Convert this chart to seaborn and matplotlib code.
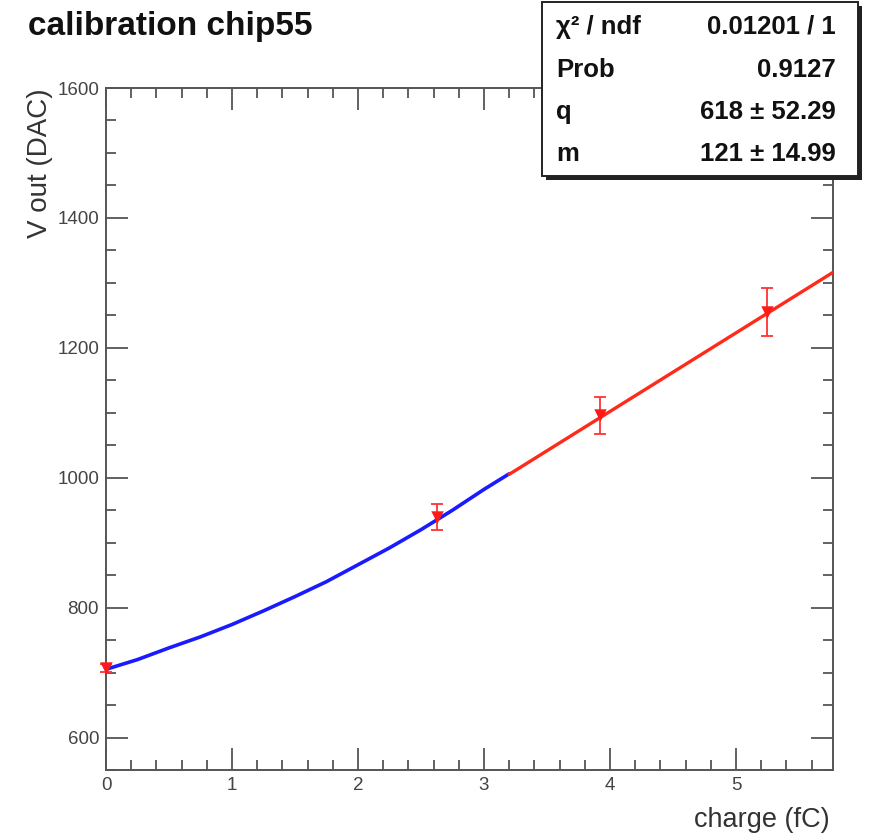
import numpy as np
import pandas as pd
import matplotlib
matplotlib.use("Agg")
import matplotlib.pyplot as plt
from matplotlib.patches import Rectangle
import seaborn as sns

# measured calibration points
charge_fc = [0.0, 2.63, 3.92, 5.25]
vout_dac = [707, 940, 1096, 1255]
vout_err = [6, 20, 28, 37]

# low-charge fit curve (sampled)
curve_x = [0.0, 0.25, 0.5, 0.75, 1.0, 1.25, 1.5, 1.75, 2.0, 2.25, 2.5, 2.75, 3.0, 3.2]
curve_y = [705, 720, 738, 755, 774, 795, 817, 840, 866, 892, 920, 950, 982, 1006]

# linear fit parameters
fit_q = 618
fit_m = 121
fit_range = [3.2, 5.77]

stats_labels = ["χ² / ndf", "Prob", "q", "m"]
stats_values = ["0.01201 / 1", "0.9127", "618 ± 52.29", "121 ± 14.99"]

sns.set_style("ticks")
plt.rcParams["font.family"] = ["Liberation Sans", "DejaVu Sans"]

fig = plt.figure(figsize=(8.72, 8.34), dpi=100)
ax = fig.add_axes([106 / 872, 1 - 770 / 834, (833 - 106) / 872, (770 - 88) / 834])

axis_col = "#555555"

curve_df = pd.DataFrame({"x": curve_x, "y": curve_y})
sns.lineplot(data=curve_df, x="x", y="y", ax=ax, color="#1a1aff", lw=2.6, zorder=3)

lin_x = np.linspace(fit_range[0], fit_range[1], 50)
lin_df = pd.DataFrame({"x": lin_x, "y": fit_q + fit_m * lin_x})
sns.lineplot(data=lin_df, x="x", y="y", ax=ax, color="#ff2a1a", lw=2.4, zorder=3)

ax.errorbar(charge_fc, vout_dac, yerr=vout_err, fmt="none", ecolor="#ff3333",
            elinewidth=1.3, capsize=4, capthick=1.3, zorder=4, clip_on=False)
pts = pd.DataFrame({"charge": charge_fc, "vout": vout_dac})
sns.scatterplot(data=pts, x="charge", y="vout", ax=ax, marker="v", s=80,
                color="#ff1a1a", edgecolor="#ff1a1a", linewidth=0, zorder=5,
                clip_on=False)

ax.set_xlim(0, 5.77)
ax.set_ylim(551, 1600)
ax.set_xticks([0, 1, 2, 3, 4, 5])
ax.set_yticks([600, 800, 1000, 1200, 1400, 1600])
ax.set_xticks(np.arange(0, 5.77, 0.2), minor=True)
ax.set_yticks(np.arange(550, 1601, 50), minor=True)
ax.tick_params(which="both", direction="in", top=True, right=True, color=axis_col,
               width=1.3, labelsize=13.5, labelcolor="#444444")
ax.tick_params(which="major", length=15.5)
ax.tick_params(which="minor", length=7.5)
ax.tick_params(axis="x", pad=5)
ax.tick_params(axis="y", pad=5)
for sp in ax.spines.values():
    sp.set_color(axis_col)
    sp.set_linewidth(1.4)

ax.set_xlabel("")
ax.set_ylabel("")
fig.text(830 / 872, 1 - 820 / 834, "charge (fC)", ha="right", va="center",
         fontsize=19.5, color="#333333")
fig.text(40 / 872, 1 - 88 / 834, "V out (DAC)", ha="center", va="top",
         rotation=90, fontsize=20, color="#333333")

fig.text(28 / 872, 1 - 27 / 834, "calibration chip55", ha="left", va="center",
         fontsize=24, fontweight="bold", color="#111111")

# statistics box with drop shadow
bx0, by0, bx1, by1 = 542, 2, 858, 176
fig.patches.append(Rectangle(((bx0 + 4) / 872, 1 - (by1 + 4) / 834),
                             (bx1 - bx0) / 872, (by1 - by0) / 834,
                             transform=fig.transFigure, facecolor="#222222",
                             edgecolor="none", zorder=9))
fig.patches.append(Rectangle((bx0 / 872, 1 - by1 / 834),
                             (bx1 - bx0) / 872, (by1 - by0) / 834,
                             transform=fig.transFigure, facecolor="white",
                             edgecolor="#222222", linewidth=1.4, zorder=10))
row_y = [27, 70, 112, 154]
for lab, val, yy in zip(stats_labels, stats_values, row_y):
    fig.text(556 / 872, 1 - yy / 834, lab, ha="left", va="center",
             fontsize=18.5, fontweight="bold", color="#111111", zorder=11)
    fig.text(836 / 872, 1 - yy / 834, val, ha="right", va="center",
             fontsize=18.5, fontweight="bold", color="#111111", zorder=11)

fig.savefig("out.png", dpi=100)
